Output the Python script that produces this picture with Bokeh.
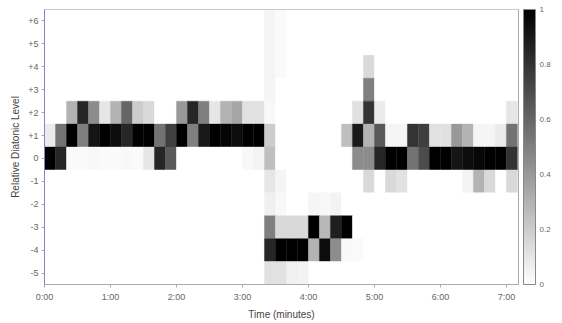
from bokeh.plotting import figure
from bokeh.models import LinearColorMapper, ColorBar, FixedTicker, ColumnDataSource
from bokeh.embed import file_html
from bokeh.resources import INLINE

# ---- data ----
bin_seconds = [0, 10, 20, 30, 40, 50, 60, 70, 80, 90,
               100, 110, 120, 130, 140, 150, 160, 170, 180, 190,
               200, 210, 220, 230, 240, 250, 260, 270, 280, 290,
               300, 310, 320, 330, 340, 350, 360, 370, 380, 390,
               400, 410, 420]
levels = [6, 5, 4, 3, 2, 1, 0, -1, -2, -3, -4, -5]

lvl_p6 = [0, 0, 0, 0, 0, 0, 0, 0, 0, 0,  0, 0, 0, 0, 0, 0, 0, 0, 0, 0,
          .04, .02, 0, 0, 0, 0, 0, 0, 0, 0,  0, 0, 0, 0, 0, 0, 0, 0, 0, 0,  0, 0, 0]
lvl_p5 = [0, 0, 0, 0, 0, 0, 0, 0, 0, 0,  0, 0, 0, 0, 0, 0, 0, 0, 0, 0,
          .04, .02, 0, 0, 0, 0, 0, 0, 0, 0,  0, 0, 0, 0, 0, 0, 0, 0, 0, 0,  0, 0, 0]
lvl_p4 = [0, 0, 0, 0, 0, 0, 0, 0, 0, 0,  0, 0, 0, 0, 0, 0, 0, 0, 0, 0,
          .04, .02, 0, 0, 0, 0, 0, 0, 0, .15,  0, 0, 0, 0, 0, 0, 0, 0, 0, 0,  0, 0, 0]
lvl_p3 = [0, 0, 0, 0, 0, 0, 0, 0, 0, 0,  0, 0, 0, 0, 0, 0, 0, 0, 0, 0,
          .04, 0, 0, 0, 0, 0, 0, 0, 0, .5,  0, 0, 0, 0, 0, 0, 0, 0, 0, 0,  0, 0, 0]
lvl_p2 = [0, 0, .3, .85, .45, .1, .3, .6, .2, .15,  0, 0, .4, .85, .5, .1, .3, .35, .12, .12,
          .03, 0, 0, 0, 0, 0, 0, 0, .12, .8,  .08, 0, 0, 0, 0, 0, 0, 0, 0, 0,  0, 0, .1]
lvl_p1 = [.08, .55, 1, .5, .92, 1, .95, .85, 1, 1,  .55, .75, 1, .5, .9, 1, .98, .95, 1, 1,
          .2, 0, 0, 0, 0, 0, 0, .25, .9, .3,  .65, .04, .04, .8, .75, .12, .12, .4, .3, .04,  .04, .08, .55]
lvl_0 = [1, .85, .02, .02, .03, .02, .02, .03, .02, .1,  .85, .65, 0, 0, 0, 0, 0, 0, .03, .05,
         .25, 0, 0, 0, 0, 0, 0, 0, .45, .45,  .85, 1, 1, .55, .7, 1, 1, .92, .95, .97,  1, 1, .8]
lvl_m1 = [0, 0, 0, 0, 0, 0, 0, 0, 0, 0,  0, 0, 0, 0, 0, 0, 0, 0, 0, 0,
          .1, .04, 0, 0, 0, 0, 0, 0, 0, .15,  0, .15, .12, 0, 0, 0, 0, 0, .05, .3,  .15, 0, .15]
lvl_m2 = [0, 0, 0, 0, 0, 0, 0, 0, 0, 0,  0, 0, 0, 0, 0, 0, 0, 0, 0, 0,
          .06, .03, 0, 0, .04, .03, .05, 0, 0, 0,  0, 0, 0, 0, 0, 0, 0, 0, 0, 0,  0, 0, 0]
lvl_m3 = [0, 0, 0, 0, 0, 0, 0, 0, 0, 0,  0, 0, 0, 0, 0, 0, 0, 0, 0, 0,
          .5, .15, .15, .15, 1, .28, .88, 1, 0, 0,  0, 0, 0, 0, 0, 0, 0, 0, 0, 0,  0, 0, 0]
lvl_m4 = [0, 0, 0, 0, 0, 0, 0, 0, 0, 0,  0, 0, 0, 0, 0, 0, 0, 0, 0, 0,
          .85, 1, 1, 1, .3, .95, .45, .03, .02, 0,  0, 0, 0, 0, 0, 0, 0, 0, 0, 0,  0, 0, 0]
lvl_m5 = [0, 0, 0, 0, 0, 0, 0, 0, 0, 0,  0, 0, 0, 0, 0, 0, 0, 0, 0, 0,
          .12, .12, .06, .05, 0, 0, 0, 0, 0, 0,  0, 0, 0, 0, 0, 0, 0, 0, 0, 0,  0, 0, 0]

rows = [lvl_p6, lvl_p5, lvl_p4, lvl_p3, lvl_p2, lvl_p1, lvl_0,
        lvl_m1, lvl_m2, lvl_m3, lvl_m4, lvl_m5]

x_ticks = [0, 60, 120, 180, 240, 300, 360, 420]
x_labels = ["0:00", "1:00", "2:00", "3:00", "4:00", "5:00", "6:00", "7:00"]
y_labels = ["+6", "+5", "+4", "+3", "+2", "+1", "0", "-1", "-2", "-3", "-4", "-5"]
cb_ticks = [0, 0.2, 0.4, 0.6, 0.8, 1]
cb_labels = ["0", "0.2", "0.4", "0.6", "0.8", "1"]

# ---- build source ----
xs, ys, vs = [], [], []
for lvl, row in zip(levels, rows):
    for t, v in zip(bin_seconds, row):
        xs.append(t + 5)
        ys.append(lvl)
        vs.append(v)
src = ColumnDataSource(dict(x=xs, y=ys, v=vs))

palette = ["#%02x%02x%02x" % (g, g, g) for g in range(255, -1, -1)]
mapper = LinearColorMapper(palette=palette, low=0, high=1)

FONT = "Liberation Sans"

p = figure(width=560, height=322, x_range=(0, 431), y_range=(-5.5, 6.5),
           output_backend="svg", toolbar_location=None,
           min_border_left=44, min_border_right=42, min_border_top=9, min_border_bottom=35)

p.rect(x="x", y="y", width=10, height=1, source=src,
       fill_color={"field": "v", "transform": mapper},
       line_color={"field": "v", "transform": mapper}, line_width=0.4)

p.xgrid.visible = False
p.ygrid.visible = False
p.outline_line_color = "#aaaaaa"
p.background_fill_color = "white"

p.xaxis.ticker = FixedTicker(ticks=x_ticks)
p.xaxis.major_label_overrides = {t: l for t, l in zip(x_ticks, x_labels)}
p.yaxis.ticker = FixedTicker(ticks=levels)
p.yaxis.major_label_overrides = {t: l for t, l in zip(levels, y_labels)}

for ax in (p.xaxis[0], p.yaxis[0]):
    ax.major_label_text_font = FONT
    ax.major_label_text_font_size = "9px"
    ax.major_label_text_color = "#666666"
    ax.axis_label_text_font = FONT
    ax.axis_label_text_font_size = "10px"
    ax.axis_label_text_font_style = "normal"
    ax.axis_label_text_color = "#444444"
    ax.major_tick_in = 0
    ax.major_tick_out = 3
    ax.minor_tick_line_color = None
    ax.major_tick_line_color = "#aaaaaa"

p.xaxis.axis_label = "Time (minutes)"
p.yaxis.axis_label = "Relative Diatonic Level"
p.xaxis.axis_line_color = "#aaaaaa"
p.yaxis.axis_line_color = "#8a7fd0"
p.xaxis.major_label_standoff = 4
p.yaxis.major_label_standoff = 3
p.xaxis.axis_label_standoff = 4
p.yaxis.axis_label_standoff = 4

cb = ColorBar(color_mapper=mapper, width=12,
              ticker=FixedTicker(ticks=cb_ticks),
              major_label_overrides={t: l for t, l in zip(cb_ticks, cb_labels)},
              padding=0, margin=0, location=(5, 0),
              bar_line_color="#888888",
              border_line_color=None, background_fill_alpha=0,
              major_tick_line_color=None,
              label_standoff=4,
              major_label_text_font=FONT, major_label_text_font_size="8px",
              major_label_text_color="#666666")
p.add_layout(cb, "right")

open("out.html", "w").write(file_html(p, INLINE))
